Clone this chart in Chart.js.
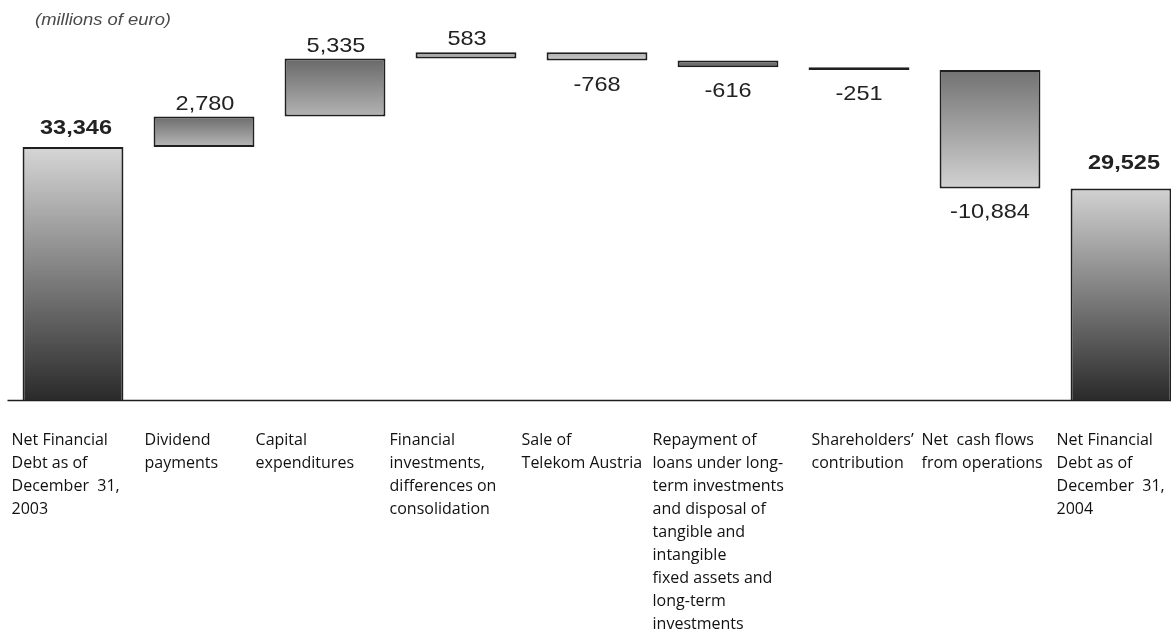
<!DOCTYPE html>
<html>
<head>
<meta charset="utf-8">
<script src="https://cdn.jsdelivr.net/npm/chart.js@4"></script>
<style>
  html, body { margin: 0; padding: 0; background: #fff; overflow: hidden; }
  #wrap { width: 1171px; height: 630px; overflow: hidden; }
</style>
</head>
<body>
<div id="wrap"><canvas id="debtChart" width="1190" height="630"></canvas></div>
<script>
const categories = [
  ["Net Financial", "Debt as of", "December  31,", "2003"],
  ["Dividend", "payments"],
  ["Capital", "expenditures"],
  ["Financial", "investments,", "differences on", "consolidation"],
  ["Sale of", "Telekom Austria"],
  ["Repayment of", "loans under long-", "term investments", "and disposal of", "tangible and", "intangible", "fixed assets and", "long-term", "investments"],
  ["Shareholders\u2019", "contribution"],
  ["Net  cash flows", "from operations"],
  ["Net Financial", "Debt as of", "December  31,", "2004"],
];
const values = [33346, 2780, 5335, 583, -768, -616, -251, -10884, 29525];
const isTotal = [true, false, false, false, false, false, false, false, true];
const unitNote = "(millions of euro)";

// gradient stops per bar, top colour -> bottom colour
const shadeTop = ["#d6d6d6", "#6c6c6c", "#686868", "#8c8c8c", "#a4a4a4", "#6e6e6e", "#959595", "#727272", "#d2d2d2"];
const shadeBottom = ["#2a2a2a", "#b8b8b8", "#b4b4b4", "#c4c4c4", "#d4d4d4", "#6e6e6e", "#959595", "#d2d2d2", "#2a2a2a"];
// label offset from the bar's left edge (the source used a column table)
const labelShift = [-11, -9, -29, -26, -25, -25, 3, -18, -14];

// waterfall ranges
let running = 0;
const ranges = values.map((v, i) => {
  if (isTotal[i]) {
    running = v;
    return [0, v];
  }
  const r = [running, running + v];
  running += v;
  return r;
});

function barFill(context) {
  const chart = context.chart;
  const { ctx, chartArea, scales } = chart;
  if (!chartArea || !scales.y) return shadeTop[context.dataIndex];
  const i = context.dataIndex;
  const r = ranges[i];
  let yTop = scales.y.getPixelForValue(Math.max(r[0], r[1]));
  let yBot = scales.y.getPixelForValue(Math.min(r[0], r[1]));
  yBot = Math.min(yBot, chartArea.bottom);
  if (yBot - yTop < 1) yBot = yTop + 1;
  const g = ctx.createLinearGradient(0, yTop, 0, yBot);
  g.addColorStop(0, shadeTop[i]);
  g.addColorStop(1, shadeBottom[i]);
  return g;
}

function stretchedText(ctx, text, x, y, sx) {
  ctx.save();
  ctx.translate(x, y);
  ctx.scale(sx, 1);
  ctx.fillText(text, 0, 0);
  ctx.restore();
}

const waterfallText = {
  id: "waterfallText",
  beforeDatasetsDraw(chart) {
    const { ctx, chartArea } = chart;
    ctx.save();
    ctx.strokeStyle = "#1e1e1e";
    ctx.lineWidth = 1.5;
    ctx.beginPath();
    ctx.moveTo(chartArea.left, chartArea.bottom + 0.5);
    ctx.lineTo(chart.width, chartArea.bottom + 0.5);
    ctx.stroke();
    ctx.restore();
  },
  afterDraw(chart) {
    const { ctx, chartArea } = chart;
    const meta = chart.getDatasetMeta(0);
    ctx.save();

    // unit note
    ctx.fillStyle = "#4a4a4a";
    ctx.font = "italic 16px 'Liberation Sans', Arial, sans-serif";
    ctx.textAlign = "left";
    ctx.textBaseline = "middle";
    stretchedText(ctx, unitNote, 35, 21, 1.15);

    meta.data.forEach((bar, i) => {
      const props = bar.getProps(["x", "y", "base", "width"], true);
      const top = Math.min(props.y, props.base);
      const bottom = Math.max(props.y, props.base);
      const txt = values[i].toLocaleString("en-US");

      // value labels
      ctx.fillStyle = "#222";
      ctx.textAlign = "center";
      ctx.textBaseline = "alphabetic";
      if (isTotal[i]) {
        ctx.font = "bold 21px 'Liberation Sans', Arial, sans-serif";
        stretchedText(ctx, txt, props.x + 3, top - (i === 0 ? 13 : 19), 1.12);
      } else if (values[i] >= 0) {
        ctx.font = "21px 'Liberation Sans', Arial, sans-serif";
        stretchedText(ctx, txt, props.x + 1, top - 7, 1.12);
      } else {
        ctx.font = "21px 'Liberation Sans', Arial, sans-serif";
        stretchedText(ctx, txt, props.x, bottom + 30, 1.12);
      }

      // category labels
      ctx.fillStyle = "#111";
      ctx.font = "16px 'Open Sans', 'Noto Sans', sans-serif";
      ctx.textAlign = "left";
      const left = props.x - props.width / 2 + labelShift[i];
      categories[i].forEach((line, j) => {
        ctx.fillText(line, left, chartArea.bottom + 45 + j * 23);
      });
    });
    ctx.restore();
  },
};

new Chart(document.getElementById("debtChart"), {
  type: "bar",
  data: {
    labels: categories.map((c) => c.join(" ")),
    datasets: [
      {
        data: ranges,
        backgroundColor: barFill,
        borderColor: "#1f1f1f",
        borderWidth: 2,
        borderSkipped: false,
        barPercentage: 0.77,
        categoryPercentage: 1,
        clip: 0,
      },
    ],
  },
  options: {
    responsive: false,
    animation: false,
    layout: {
      padding: { left: 7.5, right: 3.5, top: 20, bottom: 230 },
    },
    plugins: {
      legend: { display: false },
      tooltip: { enabled: false },
    },
    scales: {
      x: { display: false },
      y: { display: false, min: 10100, max: 45000 },
    },
  },
  plugins: [waterfallText],
});
</script>
</body>
</html>
